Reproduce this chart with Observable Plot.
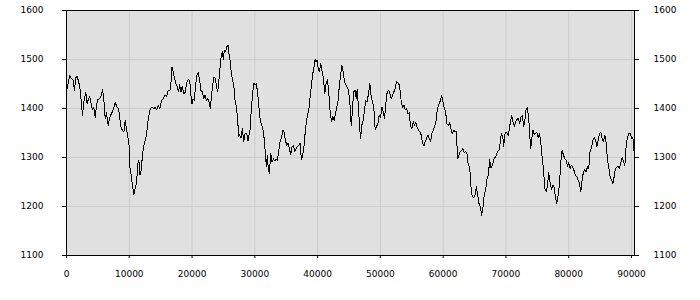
<!DOCTYPE html>
<html>
<head>
<meta charset="utf-8">
<script src="https://cdn.jsdelivr.net/npm/d3@7"></script>
<script src="https://cdn.jsdelivr.net/npm/@observablehq/plot@0.6"></script>
<style>
  html, body { margin: 0; padding: 0; background: #ffffff; }
  #chart svg { display: block; }
</style>
</head>
<body>
<div id="chart"></div>
<script>
// x positions (sample index)
const steps = [
  0,260,526,792,1058,1270,1483,1696,1909,2121,2334,2547,2759,3078,3291,3504,3716,3929,4142,4354,
  4567,4780,4993,5311,5524,5737,5949,6162,6375,6641,6907,7172,7438,7757,8076,8289,8502,8714,8927,9140,
  9352,9565,9778,9990,10097,10310,10522,10735,10948,11160,11373,11532,11692,11904,12117,12330,12543,12755,12915,13127,
  13340,13606,13925,
  14084,14350,14616,14882,15147,15413,15679,15945,16211,16477,16636,16796,17008,17221,17434,17646,17859,18019,18231,18444,
  18657,18869,19082,19295,19507,19667,19826,19986,20145,20358,20571,20783,20996,21209,21421,21634,21847,22060,22272,22485,
  22698,22910,23123,23336,23495,23708,23920,24080,24239,24399,24612,24824,24984,25143,25356,25516,25728,25888,26100,26260,
  26473,26685,26845,27057,27270,27430,27589,27802,28015,28227,28440,28706,28918,29131,
  29236,29449,29661,29821,30034,30246,30459,30672,30884,31097,31310,31522,31682,31841,32001,32160,32320,32533,32745,32958,
  33171,33383,33596,33809,34021,34234,34447,34659,34872,35085,35297,35510,35723,35935,36148,36361,36573,36786,36999,37212,
  37424,37637,37850,38009,38169,38381,38594,38807,39019,39232,39445,39604,39764,39923,40083,40295,40508,40721,40933,41146,
  41359,41571,41784,41997,42209,42422,42635,42848,43060,43273,43486,43698,43858,44070,44283,
  44389,44655,44921,45133,45293,45399,45559,45771,45984,46144,46303,46516,46675,46835,47048,47260,47473,47686,47898,48111,
  48324,48536,48749,48962,49174,49387,49600,49812,50025,50238,50450,50663,50876,51088,51301,51514,51726,51939,52152,52365,
  52577,52790,53003,53162,53322,53534,53747,53960,54172,54385,54598,54810,55023,55236,55448,55661,55874,56086,56299,56512,
  56724,56937,57150,57362,57575,57788,58001,58213,58426,58639,58851,59064,59277,59489,
  59541,59754,59966,60179,60392,60604,60817,61030,61242,61455,61668,61880,62093,62306,62519,62731,62944,63157,63369,63582,
  63795,64007,64220,64433,64645,64858,65071,65283,65496,65709,65921,66134,66347,66559,66772,66985,67197,67410,67623,67836,
  68048,68261,68474,68686,68899,69112,69271,69484,69643,69803,70016,70228,70388,70547,70760,70919,71132,71345,71557,71770,
  71983,72195,72408,72621,72834,73046,73206,73365,73525,73684,73844,73950,74110,74322,74535,
  74694,74907,75119,75332,75545,75757,75970,76183,76395,76608,76821,77033,77246,77459,77672,77884,78097,78310,78522,78735,
  78948,79160,79373,79586,79798,80011,80224,80436,80649,80862,81074,81287,81500,81712,81925,82138,82350,82563,82776,82989,
  83201,83414,83627,83839,84052,84265,84477,84690,84903,85115,85328,85541,85753,85966,86179,86391,86604,86817,87029,87242,
  87455,87667,87880,88093,88305,88518,88731,88943,89156,89369,89581,89794,90007,90220,90379,90480
];
// series values
const values = [
  1435,1451,1467,1461,1458,1437,1463,1465,1456,1444,1417,1386,1414,1432,1410,1420,1424,1410,1397,1402,
  1382,1407,1418,1420,1427,1439,1417,1380,1391,1366,1382,1390,1397,1412,1402,1400,1378,1359,1356,1352,
  1375,1356,1342,1322,1281,1264,1240,1225,1237,1250,1288,1295,1264,1274,1308,1325,1335,1346,1369,1386,
  1400,1402,1400,
  1403,1397,1407,1400,1416,1420,1427,1424,1437,1437,1451,1485,1475,1461,1451,1444,1434,1448,1434,1446,
  1431,1432,1448,1458,1459,1451,1427,1409,1420,1416,1448,1468,1473,1458,1437,1434,1420,1427,1417,1420,
  1414,1400,1431,1451,1465,1461,1444,1434,1451,1475,1502,1516,1499,1519,1517,1526,1529,1512,1495,1471,
  1458,1441,1417,1405,1376,1342,1346,1340,1359,1333,1348,1350,1333,1351,
  1356,1400,1431,1452,1448,1450,1431,1400,1373,1366,1356,1335,1308,1281,1305,1274,1267,1308,1291,1297,
  1293,1297,1293,1314,1333,1339,1356,1352,1335,1325,1329,1318,1305,1322,1325,1312,1318,1322,1325,1329,
  1295,1305,1325,1349,1369,1386,1397,1424,1448,1471,1485,1500,1495,1499,1482,1475,1492,1475,1461,1431,
  1451,1459,1431,1393,1373,1383,1376,1390,1403,1416,1451,1471,1488,1475,1454,
  1452,1444,1437,1414,1376,1366,1403,1434,1437,1420,1439,1400,1366,1339,1366,1376,1397,1416,1414,1431,
  1451,1424,1414,1400,1356,1363,1369,1386,1382,1403,1393,1380,1410,1434,1437,1431,1420,1427,1434,1441,
  1456,1452,1448,1434,1414,1403,1407,1397,1400,1390,1391,1363,1359,1373,1366,1371,1361,1356,1352,1346,
  1329,1323,1333,1339,1346,1339,1333,1349,1356,1364,1373,1397,1407,1414,
  1416,1427,1414,1400,1393,1369,1366,1371,1359,1349,1356,1352,1354,1298,1305,1312,1315,1318,1310,1312,
  1308,1284,1281,1240,1220,1218,1223,1240,1223,1206,1199,1182,1199,1227,1233,1257,1264,1295,1278,1284,
  1295,1300,1305,1312,1315,1332,1349,1344,1322,1346,1352,1349,1344,1359,1376,1386,1373,1364,1373,1378,
  1380,1369,1383,1386,1363,1380,1397,1402,1390,1369,1335,1318,1339,1356,1346,
  1349,1352,1341,1349,1332,1301,1278,1237,1231,1241,1269,1248,1235,1243,1240,1220,1206,1223,1245,1291,
  1315,1305,1298,1295,1282,1289,1278,1284,1280,1273,1264,1261,1254,1247,1230,1254,1271,1276,1271,1281,
  1278,1315,1318,1335,1341,1337,1322,1335,1349,1352,1339,1332,1346,1329,1295,1278,1261,1254,1247,1261,
  1278,1280,1282,1278,1289,1301,1291,1284,1325,1341,1349,1350,1339,1341,1315,1310
];
const xTicks = [0,10000,20000,30000,40000,50000,60000,70000,80000,90000];
const yTicks = [1100,1200,1300,1400,1500,1600];
const xDomain = [0, 90480];
const yDomain = [1100, 1600];

const data = steps.map((s, i) => ({step: s, value: values[i]}));

const chart = Plot.plot({
  width: 700,
  height: 300,
  marginLeft: 66,
  marginRight: 66,
  marginTop: 10,
  marginBottom: 45,
  style: {fontFamily: "DejaVu Sans", fontSize: "9px", color: "#000", background: "transparent"},
  x: {domain: xDomain, ticks: xTicks, label: null},
  y: {domain: yDomain, ticks: yTicks, label: null},
  marks: [
    Plot.frame({fill: "#e0e0e0", stroke: null}),
    Plot.gridX(xTicks, {stroke: "#cccccc", strokeOpacity: 1}),
    Plot.gridY(yTicks, {stroke: "#cccccc", strokeOpacity: 1}),
    Plot.line(data, {x: "step", y: "value", stroke: "#000", strokeWidth: 1, shapeRendering: "crispEdges"}),
    Plot.frame({stroke: "#000", fill: null}),
    Plot.axisX(xTicks, {anchor: "bottom", tickSize: 3, tickPadding: 12, label: null, tickFormat: d => String(d)}),
    Plot.axisY(yTicks, {anchor: "left", tickSize: 4, tickPadding: 19, label: null, tickFormat: d => String(d)}),
    Plot.axisY(yTicks, {anchor: "right", tickSize: 4, tickPadding: 15, label: null, tickFormat: d => String(d)})
  ]
});
document.getElementById("chart").appendChild(chart);
</script>
</body>
</html>
